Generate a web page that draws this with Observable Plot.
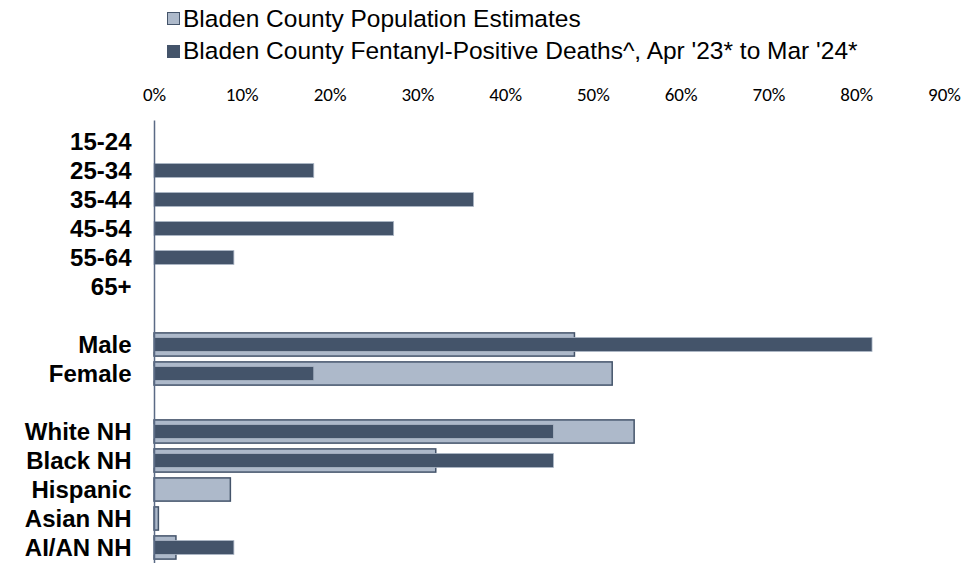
<!DOCTYPE html>
<html>
<head>
<meta charset="utf-8">
<script src="https://cdn.jsdelivr.net/npm/d3@7"></script>
<script src="https://cdn.jsdelivr.net/npm/@observablehq/plot@0.6"></script>
<style>
  html, body { margin: 0; padding: 0; background: #fff; overflow: hidden; }
  #legend { height: 70px; position: relative; font-family: "Liberation Sans", Arial, sans-serif; font-size: 24.5px; color: #000; }
  .item { position: absolute; left: 167px; display: flex; align-items: center; white-space: nowrap; line-height: 26px; height: 26px; }
  .sw { width: 13px; height: 13px; margin-right: 3px; box-sizing: border-box; }
</style>
</head>
<body>
<div id="legend"></div>
<div id="chart"></div>
<script>
const categories = ["15-24","25-34","35-44","45-54","55-64","65+","gap1","Male","Female","gap2","White NH","Black NH","Hispanic","Asian NH","AI/AN NH"];
const population = [null,null,null,null,null,null,null,0.479,0.522,null,0.547,0.321,0.087,0.005,0.025];
const deaths = [0,0.182,0.364,0.273,0.091,0,null,0.818,0.182,null,0.455,0.455,0,0,0.091];
const xTicks = [0,0.1,0.2,0.3,0.4,0.5,0.6,0.7,0.8,0.9];
const seriesNames = ["Bladen County Population Estimates", "Bladen County Fentanyl-Positive Deaths^, Apr '23* to Mar '24*"];
const popFill = "#adb9ca", darkFill = "#44546a";

const popData = categories.map((c, i) => ({cat: c, v: population[i]})).filter(d => d.v);
const deathData = categories.map((c, i) => ({cat: c, v: deaths[i]})).filter(d => d.v);

// legend
const legend = document.getElementById("legend");
[[popFill, darkFill], [darkFill, darkFill]].forEach((col, i) => {
  const it = document.createElement("div");
  it.className = "item";
  it.style.top = (5.5 + i * 32.5) + "px";
  const sw = document.createElement("div");
  sw.className = "sw";
  sw.style.background = col[0];
  sw.style.border = "1.5px solid " + col[1];
  const t = document.createElement("span");
  t.textContent = seriesNames[i];
  it.appendChild(sw); it.appendChild(t);
  legend.appendChild(it);
});

const chart = Plot.plot({
  width: 980,
  height: 498,
  marginTop: 50.5,
  marginBottom: 0,
  marginLeft: 154,
  marginRight: 36,
  x: {domain: [0, 0.9]},
  y: {domain: categories, padding: 0},
  marks: [
    Plot.axisX({anchor: "top", ticks: xTicks, tickSize: 0, tickPadding: 20, tickFormat: d3.format(".0%"), fontSize: 19, fontFamily: "Carlito, Lato, sans-serif", fill: "#000", label: null}),
    Plot.axisY({tickSize: 0, tickPadding: 23, fontSize: 24, fontWeight: "bold", fontFamily: "'Liberation Sans', Arial, sans-serif", fill: "#000", tickFormat: d => d.startsWith("gap") ? "" : d, label: null}),
    Plot.barX(popData, {x: "v", y: "cat", fill: popFill, stroke: darkFill, strokeWidth: 1.5, insetTop: 2.9, insetBottom: 2.9}),
    Plot.barX(deathData, {x: "v", y: "cat", fill: darkFill, stroke: "#a9b4c4", strokeWidth: 0.8, insetTop: 7.6, insetBottom: 7.6}),
    Plot.ruleX([0], {stroke: "#5a6a85", strokeWidth: 1.5})
  ]
});
document.getElementById("chart").appendChild(chart);
</script>
</body>
</html>
